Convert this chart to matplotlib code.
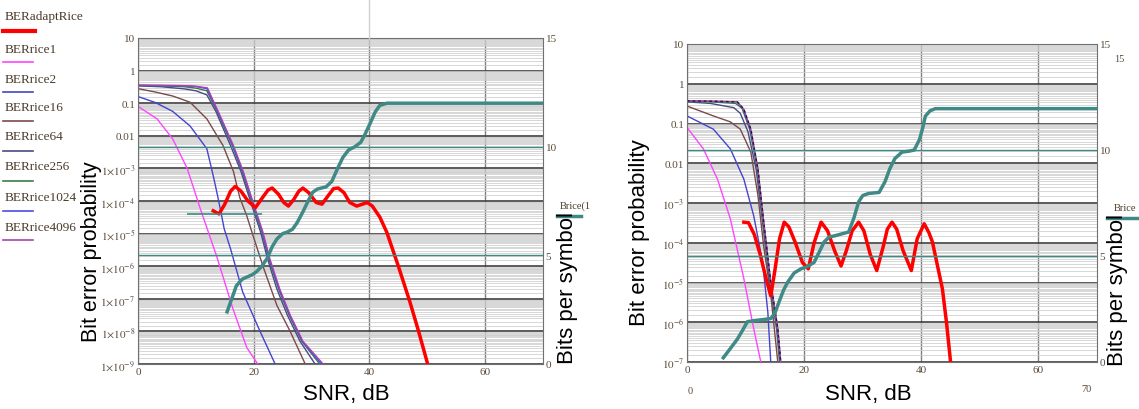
import numpy as np
import matplotlib
matplotlib.use("Agg")
import matplotlib.pyplot as plt
from matplotlib.ticker import LogLocator, NullFormatter
from matplotlib.lines import Line2D

plt.rcParams['mathtext.fontset'] = 'stix'
plt.rcParams['font.family'] = 'Liberation Sans'

W, H = 1139, 410

# ---------------- left panel data (SNR dB -> BER / bits) ----------------
snr_l_r1 = [0, 3.3, 6.0, 8.5, 10.7, 13.6, 16.4, 18.8, 20.7]
ber_l_r1 = [8e-2, 3.3e-2, 8e-3, 1e-3, 6.3e-5, 2e-6, 5e-8, 3.2e-9, 1e-9]

snr_l_r2 = [0, 3, 6, 9, 11.9, 13.1, 13.9, 14.9, 16.0, 18.1, 21.1, 23.7]
ber_l_r2 = [1.6e-1, 1.05e-1, 5.6e-2, 2e-2, 4e-3, 5e-4, 1.1e-4, 1.4e-5, 3.4e-6, 1.6e-7, 1e-8, 1e-9]

snr_l_r16 = [0, 3, 6, 9, 11.9, 14.7, 16.5, 17.6, 18.8, 19.9, 21.6, 24.0, 26.3, 28.9]
ber_l_r16 = [2.8e-1, 2.2e-1, 1.66e-1, 1.07e-1, 3.3e-2, 5e-3, 8e-4, 1.26e-4, 3.5e-5,
             8.5e-6, 1e-6, 6.3e-8, 1e-8, 1e-9]

snr_l_r64 = [0, 4, 8, 10, 11.9, 13.5, 16.0, 17.8, 19.6, 21.2, 22.4, 24.0, 25.8, 28.0, 30.6]
ber_l_r64 = [3.4e-1, 3.2e-1, 2.75e-1, 2.4e-1, 1.8e-1, 5.4e-2, 5e-3, 8e-4, 8e-5,
             1.1e-5, 1.66e-6, 2e-7, 3.2e-8, 5e-9, 1e-9]

snr_l_r256 = [0, 4, 8, 10, 11.9, 13.7, 16.3, 18.0, 19.8, 21.4, 22.6, 24.3, 26.1, 28.3, 31.4]
ber_l_r256 = [3.5e-1, 3.4e-1, 3.2e-1, 2.9e-1, 2.4e-1, 5.4e-2, 5e-3, 8e-4, 8e-5,
              1.1e-5, 1.66e-6, 2e-7, 3.2e-8, 5e-9, 1e-9]

snr_l_r1024 = [0, 4, 8, 10, 11.9, 13.8, 16.4, 18.1, 19.9, 21.5, 22.7, 24.4, 26.2, 28.4, 31.7]
ber_l_r1024 = [3.5e-1, 3.45e-1, 3.4e-1, 3.25e-1, 2.8e-1, 5.4e-2, 5e-3, 8e-4, 8e-5,
               1.1e-5, 1.66e-6, 2e-7, 3.2e-8, 5e-9, 1e-9]

snr_l_r4096 = [0, 4, 8, 10, 12.0, 13.9, 16.5, 18.2, 20.0, 21.6, 22.8, 24.5, 26.3, 28.5, 32.0]
ber_l_r4096 = [3.6e-1, 3.55e-1, 3.45e-1, 3.3e-1, 2.95e-1, 5.4e-2, 5e-3, 8e-4, 8e-5,
               1.1e-5, 1.66e-6, 2e-7, 3.2e-8, 5e-9, 1e-9]

snr_l_adapt = [13.0, 14.0, 15.0, 16.0, 16.8, 17.8, 19.0, 20.3, 21.5, 22.5, 23.2, 24.3,
               25.2, 26.0, 26.9, 27.8, 28.5, 29.5, 30.8, 31.8, 32.8, 33.8, 34.6, 35.6,
               36.6, 37.8, 38.8, 39.6, 40.5, 41.8, 43.0, 45.0, 47.0, 48.5, 50.0]
ber_l_adapt = [5e-5, 4e-5, 8e-5, 2e-4, 2.8e-4, 2e-4, 1e-4, 6.3e-5, 1.26e-4, 2.2e-4,
               2.5e-4, 1.6e-4, 9e-5, 7e-5, 1.1e-4, 2e-4, 2.5e-4, 1.8e-4, 9e-5, 8e-5,
               1.4e-4, 2.4e-4, 2.5e-4, 1.8e-4, 9e-5, 7e-5, 8e-5, 9e-5, 7e-5, 3.2e-5,
               1.1e-5, 1e-6, 8e-8, 1e-8, 1.1e-9]

snr_l_bits = [15.4, 16.2, 17.0, 18.0, 18.8, 19.7, 20.5, 21.4, 22.3, 23.2, 24.0, 25.0,
              25.8, 26.7, 27.5, 28.5, 29.4, 30.2, 31.0, 32.5, 33.5, 34.5, 35.4, 36.4,
              37.5, 38.5, 39.2, 40.0, 41.0, 41.8, 43.0, 70.0]
bits_l = [2.4, 3.0, 3.6, 3.9, 4.0, 4.1, 4.25, 4.5, 4.85, 5.4, 5.75, 6.0, 6.07, 6.2,
          6.5, 7.0, 7.5, 7.9, 8.05, 8.15, 8.4, 9.0, 9.5, 9.85, 10.0, 10.2, 10.55, 11.0,
          11.6, 11.9, 12.0, 12.0]

# ---------------- right panel data ----------------
snr_r_r1 = [0, 2.8, 5.2, 7.4, 9.7, 11.4, 12.6]
ber_r_r1 = [8e-2, 2.3e-2, 4e-3, 4e-4, 1.26e-5, 6.8e-7, 1e-7]

snr_r_r2 = [0, 4.5, 7.4, 9.7, 11.4, 12.9, 13.8, 14.3]
ber_r_r2 = [1.55e-1, 7.2e-2, 2.3e-2, 4e-3, 4.7e-4, 3.3e-5, 1.8e-6, 1e-7]

snr_r_r16 = [0, 4.5, 7.4, 9.1, 10.9, 12.1, 13.1, 14.3, 15.5]
ber_r_r16 = [2.75e-1, 1.55e-1, 1.1e-1, 7.2e-2, 1.9e-2, 1.6e-3, 8e-5, 5e-6, 1e-7]

snr_r_r64 = [0, 4, 8.0, 9.1, 10.4, 11.8, 12.9, 14.1, 15.3, 15.8]
ber_r_r64 = [3.5e-1, 3.2e-1, 2.5e-1, 1.8e-1, 6.3e-2, 7.2e-3, 3.3e-4, 1e-5, 6.8e-7, 1e-7]

snr_r_r256 = [0, 4, 8.3, 9.4, 10.7, 12.0, 13.0, 14.2, 15.4, 15.9]
ber_r_r256 = [3.6e-1, 3.5e-1, 3.2e-1, 2.4e-1, 7.2e-2, 7.2e-3, 3.3e-4, 1e-5, 6.8e-7, 1e-7]

snr_r_r1024 = [0, 4, 8.5, 9.6, 10.8, 12.1, 13.1, 14.3, 15.5, 16.0]
ber_r_r1024 = [3.7e-1, 3.6e-1, 3.5e-1, 2.3e-1, 7.2e-2, 7.2e-3, 3.3e-4, 1e-5, 6.8e-7, 1e-7]

snr_r_r4096 = [0, 4, 8.6, 9.7, 10.9, 12.1, 13.1, 14.3, 15.5, 16.0]
ber_r_r4096 = [3.7e-1, 3.65e-1, 3.5e-1, 2.3e-1, 7.2e-2, 7.2e-3, 3.3e-4, 1e-5, 6.8e-7, 1e-7]

snr_r_adapt = [9.7, 10.5, 11.5, 12.5, 13.5, 14.3, 15.0, 15.8, 16.6, 17.4, 18.5, 19.7,
               20.7, 21.7, 22.9, 24.0, 25.2, 26.3, 27.2, 28.2, 29.3, 30.2, 31.3, 32.4,
               33.5, 34.2, 35.0, 35.8, 36.9, 38.3, 39.3, 40.5, 41.3, 41.9, 42.8, 43.6,
               44.3, 45.0]
ber_r_adapt = [3.3e-4, 3.2e-4, 1.6e-4, 5e-5, 1.26e-5, 4.6e-6, 2e-5, 1.26e-4, 3.3e-4,
               2.5e-4, 1e-4, 3.2e-5, 2.2e-5, 1e-4, 3.3e-4, 2e-4, 6.3e-5, 2.6e-5, 6.3e-5,
               2e-4, 3.3e-4, 2e-4, 5e-5, 2e-5, 8e-5, 2.2e-4, 3.3e-4, 2.2e-4, 6.3e-5,
               2e-5, 1.26e-4, 3e-4, 1.8e-4, 1.05e-4, 2.5e-5, 7e-6, 1e-6, 1e-7]

snr_r_bits = [6.2, 7.3, 8.6, 9.5, 10.3, 11.4, 13.0, 14.3, 15.0, 15.8, 16.5, 17.2, 18.3,
              19.5, 20.5, 21.7, 22.6, 23.4, 24.3, 25.2, 26.5, 27.6, 28.5, 29.3, 30.0,
              31.0, 32.8, 33.8, 34.6, 35.5, 36.7, 38.0, 38.8, 39.7, 40.2, 40.7, 41.5,
              42.4, 70.0]
bits_r = [0.2, 0.6, 1.08, 1.5, 1.9, 1.95, 2.0, 2.05, 2.3, 2.9, 3.4, 3.77, 4.2, 4.4,
          4.5, 4.7, 5.2, 5.66, 5.9, 5.95, 6.05, 6.13, 6.8, 7.55, 7.85, 7.95, 8.0, 8.5,
          9.1, 9.6, 9.9, 9.95, 10.0, 10.5, 11.0, 11.6, 11.85, 11.95, 11.95]

# tick labels
xticks = [0, 20, 40, 60]
yticks_l = [1e-9, 1e-8, 1e-7, 1e-6, 1e-5, 1e-4, 1e-3, 1e-2, 1e-1, 1, 10]
ylabels_l = [r'$1{\times}10^{-9}$', r'$1{\times}10^{-8}$', r'$1{\times}10^{-7}$',
             r'$1{\times}10^{-6}$', r'$1{\times}10^{-5}$', r'$1{\times}10^{-4}$',
             r'$1{\times}10^{-3}$', '0.01', '0.1', '1', '10']
yticks_r = [1e-7, 1e-6, 1e-5, 1e-4, 1e-3, 1e-2, 1e-1, 1, 10]
ylabels_r = [r'$10^{-7}$', r'$10^{-6}$', r'$10^{-5}$', r'$10^{-4}$', r'$10^{-3}$',
             '0.01', '0.1', '1', '10']
bits_ticks = [0, 5, 10, 15]

legend_names = ['BERadaptRice', 'BERrice1', 'BERrice2', 'BERrice16', 'BERrice64',
                'BERrice256', 'BERrice1024', 'BERrice4096']
colors = ['#ff0000', '#ff44ff', '#4444cc', '#7a4a4a', '#4a4a80',
          '#3c7a4a', '#4a4aee', '#aa44aa']
teal = '#3f8a86'
tick_color = '#5a4a3a'
serif = 'Liberation Serif'
minor_subs = [1.5, 2, 2.5, 3, 3.5, 4, 4.5, 5, 5.5, 6, 6.5, 7, 7.5, 8, 8.5, 9, 9.5]


def fx(x):
    return x / W


def fy(y):
    return 1 - y / H


fig = plt.figure(figsize=(W / 100, H / 100), dpi=100)


def setup_panel(rect, ylim, yticks, ylabels):
    ax = fig.add_axes(rect)
    ax.set_yscale('log')
    ax.set_xlim(0, 70)
    ax.set_ylim(*ylim)
    ax.set_xticks(xticks)
    ax.set_xticklabels([str(t) for t in xticks], family=serif, fontsize=8, color=tick_color)
    ax.set_yticks(yticks)
    ax.set_yticklabels(ylabels, family=serif, fontsize=8, color=tick_color)
    ax.yaxis.set_minor_locator(LogLocator(base=10, subs=minor_subs, numticks=40))
    ax.yaxis.set_minor_formatter(NullFormatter())
    ax.tick_params(which='both', length=0, pad=2)
    ax.grid(True, which='minor', axis='y', color='#cdcdcd', lw=0.55)
    ax.grid(True, which='major', axis='y', color='#404040', lw=1.2)
    ax.grid(True, which='major', axis='x', color='#808080', lw=1.0)
    for s in ax.spines.values():
        s.set_color('#707070')
    ax.set_axisbelow(True)

    ax2 = ax.twinx()
    ax2.set_ylim(0, 15)
    ax2.set_yticks(bits_ticks)
    ax2.set_yticklabels([str(t) for t in bits_ticks], family=serif, fontsize=8, color=tick_color)
    ax2.tick_params(length=0, pad=2)
    for s in ax2.spines.values():
        s.set_visible(False)
    ax2.axhline(5, color=teal, lw=1.0)
    ax2.axhline(10, color=teal, lw=1.0)
    return ax, ax2


# ---------------- left panel ----------------
axL, axL2 = setup_panel([fx(138), fy(365), fx(543) - fx(138), fy(39) - fy(365)],
                        (1e-9, 10), yticks_l, ylabels_l)
left_series = [(snr_l_r1, ber_l_r1), (snr_l_r2, ber_l_r2), (snr_l_r16, ber_l_r16),
               (snr_l_r64, ber_l_r64), (snr_l_r256, ber_l_r256),
               (snr_l_r1024, ber_l_r1024), (snr_l_r4096, ber_l_r4096)]
for (s, b), c in zip(left_series, colors[1:]):
    axL.plot(s, b, color=c, lw=1.0)
axL.plot(snr_l_adapt, ber_l_adapt, color=colors[0], lw=2.5)
axL2.plot(snr_l_bits, bits_l, color=teal, lw=2.5)
axL2.hlines(6.9, 8.5, 21.5, color=teal, lw=1.2)

# ---------------- right panel ----------------
axR, axR2 = setup_panel([fx(687), fy(363), fx(1097) - fx(687), fy(45) - fy(363)],
                        (1e-7, 10), yticks_r, ylabels_r)
right_series = [(snr_r_r1, ber_r_r1), (snr_r_r2, ber_r_r2), (snr_r_r16, ber_r_r16),
                (snr_r_r64, ber_r_r64), (snr_r_r256, ber_r_r256),
                (snr_r_r1024, ber_r_r1024), (snr_r_r4096, ber_r_r4096)]
for (s, b), c in zip(right_series, colors[1:]):
    axR.plot(s, b, color=c, lw=1.0)
axR.plot(snr_r_r4096, ber_r_r4096, color='#202020', lw=1.0, ls=(0, (2, 2)))
axR.plot(snr_r_adapt, ber_r_adapt, color=colors[0], lw=2.5)
axR2.plot(snr_r_bits, bits_r, color=teal, lw=2.5)

# ---------------- axis titles ----------------
fig.text(fx(91), fy(252), 'Bit error probability', rotation=90, fontsize=15.5,
         ha='center', va='center')
fig.text(fx(346), fy(395), 'SNR, dB', fontsize=16, ha='center', va='center')
fig.text(fx(568), fy(288), 'Bits per symbol', rotation=90, fontsize=16,
         ha='center', va='center')
fig.text(fx(640), fy(233), 'Bit error probability', rotation=90, fontsize=16,
         ha='center', va='center')
fig.text(fx(868), fy(395), 'SNR, dB', fontsize=16, ha='center', va='center')
fig.text(fx(1117), fy(290), 'Bits per symbol', rotation=90, fontsize=16,
         ha='center', va='center')

# ---------------- left legend ----------------
text_y = [17, 50, 80, 108, 137, 167, 198, 228]
line_y = [32, 63, 93, 122, 152, 182, 212, 241]
for name, c, ty, ly in zip(legend_names, colors, text_y, line_y):
    fig.text(fx(5), fy(ty), name, family=serif, fontsize=9.5, color='#4a3a2a',
             ha='left', va='center')
    lw = 3.0 if name == 'BERadaptRice' else 1.2
    x1 = 35 if name == 'BERadaptRice' else 33
    fig.add_artist(Line2D([fx(3), fx(x1)], [fy(ly), fy(ly)], color=c, lw=lw))

# Brice markers
fig.text(fx(560), fy(206), 'Brice(1', family=serif, fontsize=7.5, color='#4a3a2a',
         ha='left', va='center')
fig.add_artist(Line2D([fx(557), fx(581)], [fy(217), fy(217)], color=teal, lw=2.5))
fig.text(fx(1114), fy(209), 'Brice', family=serif, fontsize=7.5, color='#4a3a2a',
         ha='left', va='center')
fig.add_artist(Line2D([fx(1107), fx(1139)], [fy(219), fy(219)], color=teal, lw=2.5))

# stray labels of the right plot
fig.text(fx(690), fy(392), '0', family=serif, fontsize=7.5, color=tick_color,
         ha='center', va='center')
fig.text(fx(1086), fy(390), '70', family=serif, fontsize=7.5, color=tick_color,
         ha='center', va='center')
fig.text(fx(1119), fy(60), '15', family=serif, fontsize=7.5, color=tick_color,
         ha='center', va='center')
fig.add_artist(Line2D([fx(369), fx(369)], [fy(0), fy(39)], color='#d0d0d0', lw=1.0))

fig.savefig('out.png', dpi=100)
